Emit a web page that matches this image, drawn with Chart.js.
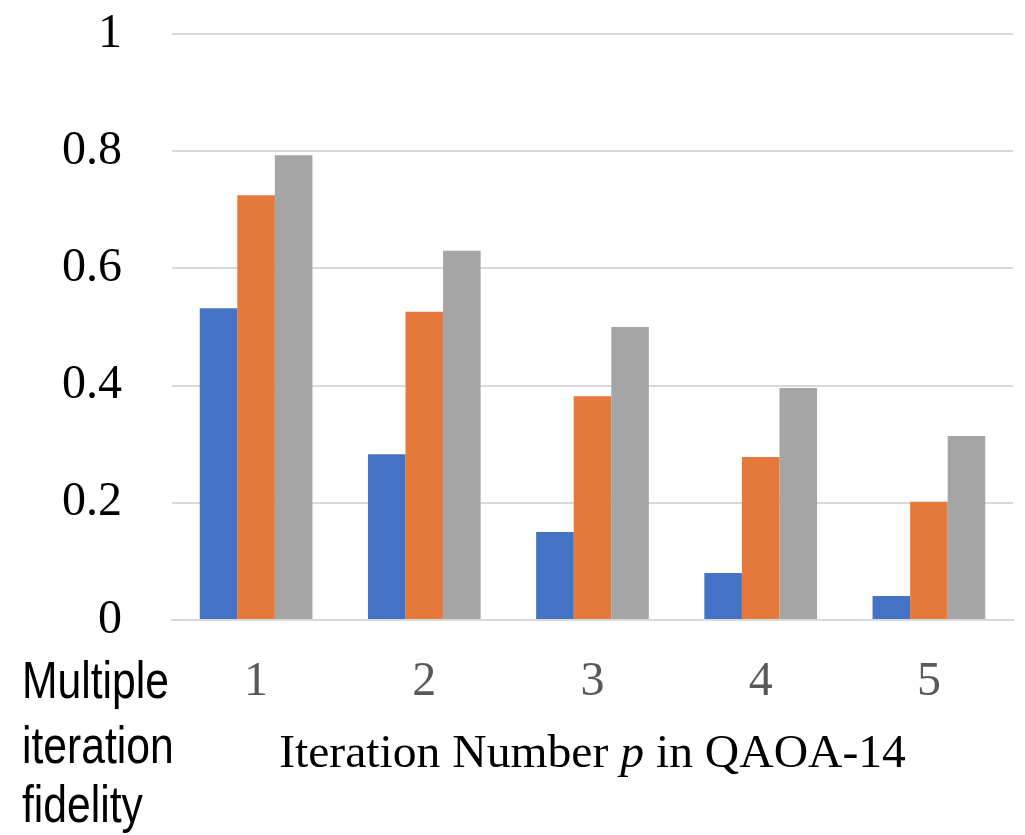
<!DOCTYPE html>
<html>
<head>
<meta charset="utf-8">
<script src="https://cdn.jsdelivr.net/npm/chart.js@4.4.1/dist/chart.umd.min.js"></script>
<style>
  html, body { margin: 0; padding: 0; background: #ffffff; }
  #wrap { width: 1025px; height: 835px; position: relative; }
</style>
</head>
<body>
<div id="wrap"><canvas id="c" width="1025" height="835"></canvas></div>
<script>
// QAOA-14 fidelity per iteration number p
const categories = ['1', '2', '3', '4', '5'];
const seriesA = [0.532, 0.283, 0.150, 0.080, 0.041];
const seriesB = [0.725, 0.526, 0.382, 0.278, 0.202];
const seriesC = [0.793, 0.630, 0.500, 0.396, 0.314];
const yTicks = [0, 0.2, 0.4, 0.6, 0.8, 1];
const sideLabel = ['Multiple', 'iteration', 'fidelity'];

const serif = '"Liberation Serif", "DejaVu Serif", serif';

// left-bottom multi-line caption, condensed sans
const sideCaption = {
  id: 'sideCaption',
  afterDraw(chart) {
    const ctx = chart.ctx;
    ctx.save();
    ctx.fillStyle = '#000000';
    ctx.font = '52px "Liberation Sans", Arial, sans-serif';
    ctx.textBaseline = 'alphabetic';
    ctx.textAlign = 'left';
    const baselines = [698, 763, 822];
    sideLabel.forEach((t, i) => {
      ctx.save();
      ctx.translate(22, baselines[i]);
      ctx.scale(0.82, 1);
      ctx.fillText(t, 0, 0);
      ctx.restore();
    });
    ctx.restore();
  }
};

// axis title with italic p
const axisTitle = {
  id: 'axisTitle',
  afterDraw(chart) {
    const ctx = chart.ctx;
    ctx.save();
    ctx.fillStyle = '#000000';
    ctx.textBaseline = 'alphabetic';
    const parts = [
      { t: 'Iteration Number ', f: '46px ' + serif },
      { t: 'p', f: 'italic 46px ' + serif },
      { t: ' in QAOA-14', f: '46px ' + serif }
    ];
    const sx = 1.035;
    let total = 0;
    parts.forEach(p => { ctx.font = p.f; p.w = ctx.measureText(p.t).width; total += p.w; });
    const cx = (chart.chartArea.left + chart.chartArea.right) / 2;
    ctx.translate(cx - total * sx / 2, 767);
    ctx.scale(sx, 1);
    let x = 0;
    parts.forEach(p => { ctx.font = p.f; ctx.fillText(p.t, x, 0); x += p.w; });
    ctx.restore();
  }
};

new Chart(document.getElementById('c'), {
  type: 'bar',
  data: {
    labels: categories,
    datasets: [
      { label: 'A', data: seriesA, backgroundColor: '#4472C4' },
      { label: 'B', data: seriesB, backgroundColor: '#E5793C' },
      { label: 'C', data: seriesC, backgroundColor: '#A5A5A5' }
    ]
  },
  options: {
    responsive: false,
    animation: false,
    devicePixelRatio: 1,
    layout: { padding: { left: 0, right: 12, top: 34, bottom: 0 } },
    datasets: { bar: { categoryPercentage: 0.67, barPercentage: 1.0, borderWidth: 0 } },
    plugins: { legend: { display: false }, tooltip: { enabled: false }, title: { display: false } },
    scales: {
      x: {
        grid: { display: false, drawTicks: false },
        border: { display: true, color: '#d9d9d9', width: 2 },
        ticks: { color: '#595959', font: { family: serif, size: 48 }, padding: 34, maxRotation: 0 },
        afterFit(s) { s.height = 215; s.paddingLeft = 0; s.paddingRight = 0; }
      },
      y: {
        min: 0, max: 1,
        afterBuildTicks(s) { s.ticks = yTicks.map(v => ({ value: v })); },
        grid: { color: '#d9d9d9', lineWidth: 2, drawTicks: false },
        border: { display: false },
        ticks: {
          color: '#000000', font: { family: serif, size: 48 }, padding: 50,
          callback: v => String(v)
        },
        afterFit(s) { s.width = 172; s.paddingTop = 0; s.paddingBottom = 0; }
      }
    }
  },
  plugins: [sideCaption, axisTitle]
});
</script>
</body>
</html>
